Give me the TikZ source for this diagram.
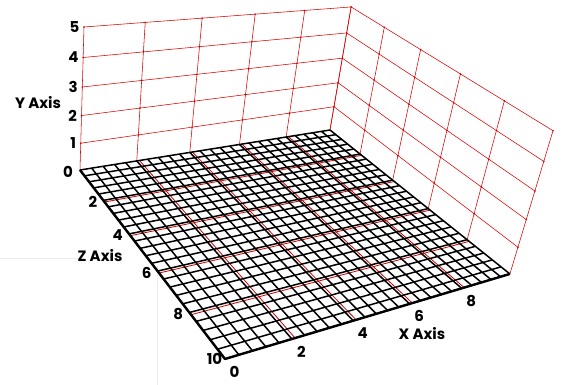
\documentclass[tikz,border=0pt]{standalone}
\usepackage{fontspec}
\setmainfont{Poppins}
\begin{document}
\begin{tikzpicture}[x=1pt,y=1pt,
  declare function={
    pw(\x,\y,\z)=0.017483*\x-0.023323*\z+1-0.0156*\y;
    px(\x,\y,\z)=(30.769*\x+9.252*\z+80-0.51*\y)/pw(\x,\y,\z);
    py(\x,\y,\z)=-(-1.727*\x+10.527*\z+170-29.02*\y)/pw(\x,\y,\z);
  },
  redline/.style={draw=red!85!black, line width=0.55pt},
  floorred/.style={draw=red!80!black, line width=0.8pt},
  reddot/.style={fill=red!85!black},
  floorline/.style={draw=black, line width=1.5pt},
  edgeline/.style={draw=black, line width=2.4pt, line join=round},
  lab/.style={font=\bfseries\fontsize{15}{15}\selectfont, inner sep=0pt},
  axlab/.style={font=\bfseries\fontsize{15}{15}\selectfont, inner sep=0pt},
  faint/.style={draw=black!7, line width=0.6pt}]
\newcommand\pp[3]{({px(#1,#2,#3)},{py(#1,#2,#3)})}
\useasboundingbox (0,0) rectangle (562,-385);
% faint artefact lines
\draw[faint] (0,-258) -- (78,-258);
\draw[faint] (157,-266) -- (157,-385);
% back wall (z = 0)
\foreach \i in {0,2,...,10} \draw[redline] \pp{\i}{0}{0} -- \pp{\i}{5}{0};
\foreach \j in {1,...,5} \draw[redline] \pp{0}{\j}{0} -- \pp{10}{\j}{0};
% right wall (x = 10)
\foreach \k in {0,2,...,10} \draw[redline] \pp{10}{0}{\k} -- \pp{10}{5}{\k};
\foreach \j in {1,...,5} \draw[redline] \pp{10}{\j}{0} -- \pp{10}{\j}{10};
% dots on wall intersections
\foreach \i in {0,2,...,10} \foreach \j in {1,...,5} \fill[reddot] \pp{\i}{\j}{0} circle (0.9);
\foreach \k in {2,4,...,10} \foreach \j in {1,...,5} \fill[reddot] \pp{10}{\j}{\k} circle (0.9);
% floor red major lines
\foreach \i in {2,4,...,8} {
  \draw[floorred] \pp{\i+0.1}{0}{0} -- \pp{\i+0.1}{0}{10};
  \draw[floorred] \pp{0}{0}{\i+0.1} -- \pp{10}{0}{\i+0.1};
}
% floor black grid
\foreach \n in {0,...,25} {
  \pgfmathsetmacro\q{\n*0.4}
  \draw[floorline] \pp{\q}{0}{0} -- \pp{\q}{0}{10};
  \draw[floorline] \pp{0}{0}{\q} -- \pp{10}{0}{\q};
}
% thick front edges
\draw[edgeline] \pp{0}{0}{0} -- \pp{0}{0}{10} -- \pp{10}{0}{10};
% Y labels
\foreach \j in {1,...,5} \node[lab, anchor=east, xshift=-4.5pt] (y\j) at \pp{0}{\j}{0} {\j};
\node[lab, anchor=east, xshift=-7pt, yshift=-1.5pt] (y0) at \pp{0}{0}{0} {0};
% Z labels
\foreach \k in {2,4,6,8} \node[lab, anchor=east, xshift=-6pt, yshift=-1.5pt] (z\k) at \pp{0}{0}{\k} {\k};
\node[lab, anchor=east, xshift=-2.5pt, yshift=0pt] (z10) at \pp{0}{0}{10} {10};
% X labels
\foreach \i in {0,2,4,6,8} \node[lab, xshift=9.5pt, yshift=-12.5pt] (x\i) at \pp{\i}{0}{10} {\i};
% axis titles
\node[axlab] (ytitle) at (38,-103) {Y Axis};
\node[axlab] (ztitle) at (100,-256) {Z Axis};
\node[axlab] (xtitle) at (422,-334) {X Axis};
\end{tikzpicture}
\end{document}
